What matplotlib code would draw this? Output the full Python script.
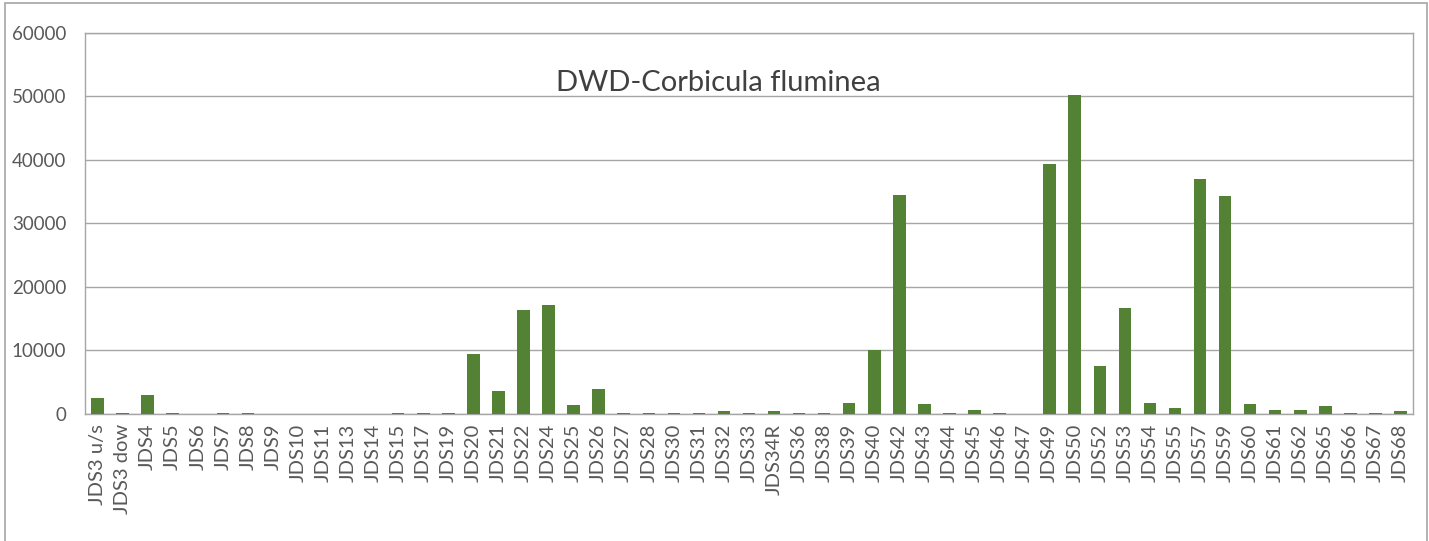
import matplotlib
matplotlib.use('Agg')
import matplotlib.pyplot as plt
from matplotlib.patches import Rectangle
import numpy as np

## {{{                          --     data     --

sites = [
    'JDS3 u/s', 'JDS3 dow', 'JDS4', 'JDS5', 'JDS6', 'JDS7', 'JDS8', 'JDS9', 'JDS10',
    'JDS11', 'JDS13', 'JDS14', 'JDS15', 'JDS17', 'JDS19', 'JDS20', 'JDS21', 'JDS22',
    'JDS24', 'JDS25', 'JDS26', 'JDS27', 'JDS28', 'JDS30', 'JDS31', 'JDS32', 'JDS33',
    'JDS34R', 'JDS36', 'JDS38', 'JDS39', 'JDS40', 'JDS42', 'JDS43', 'JDS44', 'JDS45',
    'JDS46', 'JDS47', 'JDS49', 'JDS50', 'JDS52', 'JDS53', 'JDS54', 'JDS55', 'JDS57',
    'JDS59', 'JDS60', 'JDS61', 'JDS62', 'JDS65', 'JDS66', 'JDS67', 'JDS68',
]
density = [
    2500, 200, 3000, 200, 0, 200, 200, 0, 0,
    0, 0, 0, 200, 200, 200, 9400, 3600, 16400,
    17200, 1400, 3900, 200, 200, 200, 200, 500, 200,
    500, 200, 200, 1800, 10000, 34500, 1600, 200, 600,
    200, 0, 39300, 50300, 7600, 16700, 1800, 900, 37000,
    34300, 1600, 700, 700, 1300, 200, 200, 400,
]
yticks = [0, 10000, 20000, 30000, 40000, 50000, 60000]
title = 'DWD-Corbicula fluminea'

##────────────────────────────────────────────────────────────────────────────}}}

plt.rcParams['font.family'] = ['Lato', 'DejaVu Sans']

fig = plt.figure(figsize=(14.29, 5.41), dpi=100)
ax = fig.add_axes([0.0595, 0.2348, 0.9293, 0.7042])

x = np.arange(len(sites))
ax.bar(x, density, width=0.5, color='#548235', zorder=3)

ax.set_xlim(-0.5, len(sites) - 0.5)
ax.set_ylim(0, 60000)
ax.set_yticks(yticks)
ax.set_yticklabels([str(v) for v in yticks], fontsize=13.5, color='#595959')
ax.set_xticks(x)
ax.set_xticklabels(sites, rotation=90, fontsize=14.5, color='#595959')
ax.tick_params(axis='y', length=0, pad=13.5)
ax.tick_params(axis='x', length=0, pad=7)
ax.grid(axis='y', color='#a6a6a6', linewidth=1, zorder=0)

for side in ['left', 'bottom', 'right', 'top']:
    ax.spines[side].set_color('#a6a6a6')
    ax.spines[side].set_linewidth(1)

ax.text(0.477, 0.87, title, transform=ax.transAxes, ha='center', va='center',
        fontsize=21, color='#404040')

# outer chart border
fig.patches.append(Rectangle((0.0035, -0.01), 0.995, 1.005, transform=fig.transFigure,
                             fill=False, edgecolor='#a6a6a6', linewidth=1.2))

fig.savefig('out.png', dpi=100, facecolor='white')
